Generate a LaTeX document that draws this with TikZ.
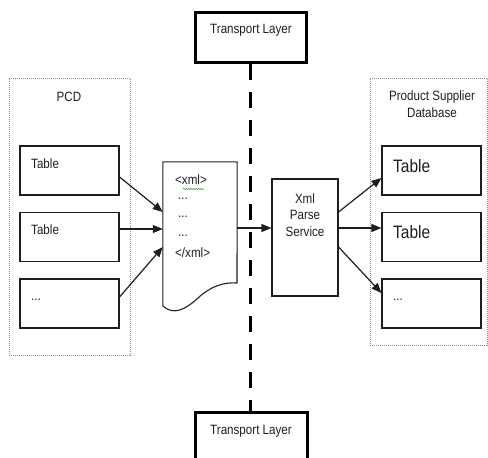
\documentclass[tikz,border=0pt]{standalone}
\usepackage{fontspec}
\setmainfont{Liberation Sans}[FakeStretch=0.86]
\usetikzlibrary{arrows.meta,decorations.pathmorphing}
\definecolor{ink}{HTML}{1E1E1E}
\definecolor{frame}{HTML}{8A8A8A}
\definecolor{spell}{HTML}{3C9A3C}
\begin{document}
\begin{tikzpicture}[x=1pt,y=-1pt,
  txt/.style={font=\fontsize{13.5}{15}\selectfont, text=ink, inner sep=0pt},
  bigtxt/.style={font=\fontsize{18}{20}\selectfont, text=ink, inner sep=0pt},
  group/.style={draw=frame, line width=0.6pt, dash pattern=on 1pt off 1pt, rectangle, inner sep=0pt},
  tbl/.style={draw=ink, line width=1.1pt, rectangle, minimum width=99pt, minimum height=49pt, inner sep=0pt},
  layer/.style={draw=black, line width=3pt, rectangle, inner sep=0pt},
  flow/.style={draw=ink, line width=1.2pt, -{Triangle[length=10pt,width=8pt]}},
  boundary/.style={draw=black, line width=3.3pt, dash pattern=on 16pt off 12pt}
]
\useasboundingbox (0,0) rectangle (488,458);

% transport layer boxes and the dashed boundary between them
\node[layer, minimum width=111pt, minimum height=50pt] (ttop) at (250.5,37) {};
\node[txt] at (251,30) {Transport Layer};
\node[layer, minimum width=112pt, minimum height=58pt] (tbot) at (251,441) {};
\node[txt] at (251,431) {Transport Layer};
\draw[boundary] (ttop.south) -- (ttop.south |- tbot.north);

% PCD group
\node[group, minimum width=121pt, minimum height=277pt] (pcd) at (69.5,216.5) {};
\node[txt] at (69,97) {PCD};
\node[tbl] (l1) at (69.5,170.5) {};
\node[tbl] (l2) at (69.5,237) {};
\node[tbl] (l3) at (69.5,303.5) {};
\node[txt, anchor=west] at (31,164) {Table};
\node[txt, anchor=west] at (31,230) {Table};
\node[txt, anchor=west] at (31,300) {...};

% XML document
\node[rectangle, minimum width=74pt, minimum height=144pt, inner sep=0pt] (doc) at (200,234) {};
\draw[draw=ink, line width=1.1pt, line join=round]
  (doc.south west) -- (doc.north west) -- (doc.north east) -- (237,283)
  .. controls (224,282) and (211,286) .. (198,298)
  .. controls (186,309) and (174,316) .. (163,306) -- cycle;
\node[txt, anchor=west] at (175,180) {<xml>};
\draw[spell, line width=0.5pt, decorate, decoration={snake, amplitude=0.7pt, segment length=2.5pt}] (183,189) -- (204,189);
\node[txt, anchor=west] at (178,199) {...};
\node[txt, anchor=west] at (178,217) {...};
\node[txt, anchor=west] at (178,236) {...};
\node[txt, anchor=west] at (175,253) {</xml>};

% parse service
\node[draw=ink, line width=1.1pt, rectangle, minimum width=66pt, minimum height=117pt, inner sep=0pt] (xml) at (305,237.5) {};
\node[txt, align=center] at (305,215) {Xml\\[1.5pt]Parse\\[1.5pt]Service};

% product supplier database group
\node[group, minimum width=117pt, minimum height=267pt] (psd) at (428.5,211.5) {};
\node[txt, align=center] at (432,104) {Product Supplier\\[1.5pt]Database};
\node[tbl] (r1) at (431.5,170.5) {};
\node[tbl] (r2) at (431.5,237) {};
\node[tbl] (r3) at (431.5,303.5) {};
\node[bigtxt, anchor=west] at (393,166) {Table};
\node[bigtxt, anchor=west] at (393,232) {Table};
\node[txt, anchor=west] at (393,300) {...};

% data flow
\draw[flow] ([yshift=-6.5pt]l1.east) -- ([yshift=22pt]doc.west);
\draw[flow] ([yshift=8pt]l2.east) -- ([yshift=5pt]doc.west);
\draw[flow] ([yshift=6.5pt]l3.east) -- ([yshift=-13pt]doc.west);
\draw[flow] ([yshift=6pt]doc.east) -- ([yshift=6pt]doc.east -| xml.west);
\draw[flow] ([yshift=25.5pt]xml.east) -- ([yshift=-7.5pt]r1.west);
\draw[flow] ([yshift=9.5pt]xml.east) -- ([yshift=9pt]r2.west);
\draw[flow] ([yshift=-9.5pt]xml.east) -- ([yshift=10.5pt]r3.west);
\end{tikzpicture}
\end{document}
